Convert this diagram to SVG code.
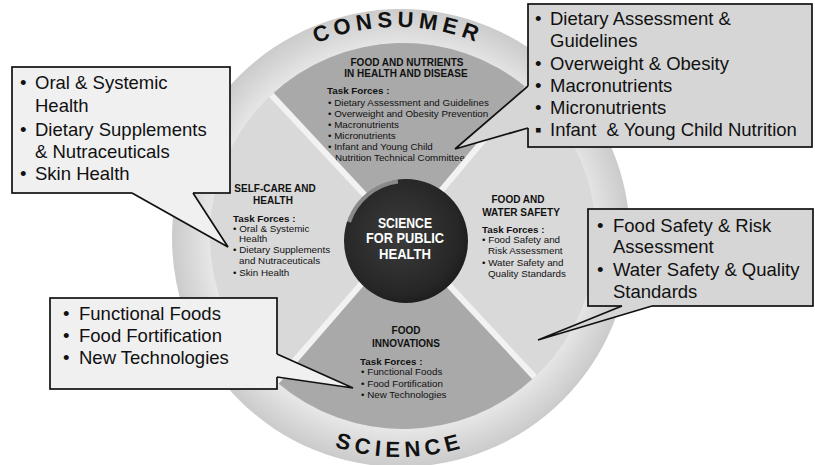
<svg xmlns="http://www.w3.org/2000/svg" width="815" height="465" viewBox="0 0 815 465">
<style>
  .bx{font-family:"Liberation Sans",Arial,sans-serif;font-size:18.5px;fill:#111}
  .qt{font-family:"Liberation Sans",Arial,sans-serif;font-size:10px;font-weight:bold;fill:#111;text-anchor:middle}
  .tf{font-family:"Liberation Sans",Arial,sans-serif;font-size:9.8px;font-weight:bold;fill:#111}
  .qb{font-family:"Liberation Sans",Arial,sans-serif;font-size:9.8px;fill:#111}
  .arc{font-family:"Liberation Sans",Arial,sans-serif;font-size:22px;font-weight:bold;fill:#111;letter-spacing:5px}
  .ctr{font-family:"Liberation Sans",Arial,sans-serif;font-size:14.5px;font-weight:bold;fill:#fff;text-anchor:middle}
  .boxd{fill:#d6d6d6;stroke:#111;stroke-width:1.7}
  .boxl{fill:#f0f0f0;stroke:#111;stroke-width:1.7}
  .wd{fill:#d6d6d6;stroke:none}
  .wl{fill:#f0f0f0;stroke:none}
  .ws{fill:none;stroke:#111;stroke-width:1.7;stroke-linejoin:miter}
  .div{stroke:#f2f2f2;stroke-width:6}
</style>
<defs>
  <radialGradient id="ringG" cx="401" cy="238" r="229" gradientUnits="userSpaceOnUse">
    <stop offset="0.84" stop-color="#e6e6e6"/>
    <stop offset="0.92" stop-color="#d8d8d8"/>
    <stop offset="1" stop-color="#cbcbcb"/>
  </radialGradient>
  <radialGradient id="sphG" cx="0.45" cy="0.45" r="0.6">
    <stop offset="0" stop-color="#3c3c3c"/>
    <stop offset="0.8" stop-color="#262626"/>
    <stop offset="1" stop-color="#1a1a1a"/>
  </radialGradient>
  <path id="arcTop" d="M186,239 A212,212 0 0 1 610,239"/>
  <path id="arcBot" d="M182,239 A218,218 0 0 0 618,239"/>
</defs>
<rect width="815" height="465" fill="#fff"/>

<g id="outer-ring">
  <circle cx="401" cy="238" r="229" fill="url(#ringG)"/>
  <text class="arc"><textPath href="#arcTop" startOffset="50%" text-anchor="middle">CONSUMER</textPath></text>
  <text class="arc"><textPath href="#arcBot" startOffset="50%" text-anchor="middle">SCIENCE</textPath></text>
</g>

<g id="inner-disk">
  <circle cx="403" cy="236" r="193" fill="#d9d9d9"/>
</g>

<g id="q-top">
  <path d="M403,236 L271.4,94.9 A193,193 0 0 1 527.1,88.2 Z" fill="#a9a9a9"/>
  <text class="qt" x="407" y="66">FOOD AND NUTRIENTS</text>
  <text class="qt" x="406" y="77">IN HEALTH AND DISEASE</text>
  <text class="tf" x="327" y="94">Task Forces :</text>
  <text class="qb" x="328" y="105.5">• Dietary Assessment and Guidelines</text>
  <text class="qb" x="328" y="116.5">• Overweight and Obesity Prevention</text>
  <text class="qb" x="328" y="127.5">• Macronutrients</text>
  <text class="qb" x="328" y="138.5">• Micronutrients</text>
  <text class="qb" x="328" y="150">• Infant and Young Child</text>
  <text class="qb" x="335" y="160.5">Nutrition Technical Committee</text>
</g>

<g id="q-bottom">
  <path d="M403,236 L534.6,377.1 A193,193 0 0 1 276.4,381.7 Z" fill="#a9a9a9"/>
  <text class="qt" x="406" y="334">FOOD</text>
  <text class="qt" x="406" y="347">INNOVATIONS</text>
  <text class="tf" x="360" y="364.5">Task Forces :</text>
  <text class="qb" x="361" y="375">• Functional Foods</text>
  <text class="qb" x="361" y="386.5">• Food Fortification</text>
  <text class="qb" x="361" y="397.5">• New Technologies</text>
</g>

<g id="dividers">
  <line class="div" x1="403" y1="236" x2="271.4" y2="94.9"/>
  <line class="div" x1="403" y1="236" x2="527.1" y2="88.2"/>
  <line class="div" x1="403" y1="236" x2="534.6" y2="377.1"/>
  <line class="div" x1="403" y1="236" x2="276.4" y2="381.7"/>
</g>

<g id="q-left">
  <text class="qt" x="275" y="192">SELF-CARE AND</text>
  <text class="qt" x="273" y="204">HEALTH</text>
  <text class="tf" x="233" y="221.5">Task Forces :</text>
  <text class="qb" x="233" y="231.5">• Oral &amp; Systemic</text>
  <text class="qb" x="239" y="241.5">Health</text>
  <text class="qb" x="233" y="252.5">• Dietary Supplements</text>
  <text class="qb" x="239" y="264">and Nutraceuticals</text>
  <text class="qb" x="233" y="275.5">• Skin Health</text>
</g>

<g id="q-right">
  <text class="qt" x="518" y="203">FOOD AND</text>
  <text class="qt" x="521" y="216">WATER SAFETY</text>
  <text class="tf" x="482" y="232.5">Task Forces :</text>
  <text class="qb" x="482" y="242.5">• Food Safety and</text>
  <text class="qb" x="488" y="253.5">Risk Assessment</text>
  <text class="qb" x="482" y="265.5">• Water Safety and</text>
  <text class="qb" x="488" y="276.5">Quality Standards</text>
</g>

<g id="center">
  <circle cx="406" cy="241" r="62" fill="url(#sphG)"/>
  <path d="M349,222 A60,60 0 0 1 398,181.5" fill="none" stroke="#ffffff" stroke-opacity="0.45" stroke-width="4"/>
  <text class="ctr" x="405" y="227.5" textLength="54" lengthAdjust="spacingAndGlyphs">SCIENCE</text>
  <text class="ctr" x="405" y="243" textLength="78" lengthAdjust="spacingAndGlyphs">FOR PUBLIC</text>
  <text class="ctr" x="405" y="258.5" textLength="52" lengthAdjust="spacingAndGlyphs">HEALTH</text>
</g>

<g id="callout-self-care">
  <rect class="boxl" x="12" y="67" width="218" height="126"/>
  <text class="bx" x="20" y="89">•</text><text class="bx" x="35" y="89">Oral &amp; Systemic</text>
  <text class="bx" x="35" y="112">Health</text>
  <text class="bx" x="20" y="136">•</text><text class="bx" x="35" y="136">Dietary Supplements</text>
  <text class="bx" x="35" y="158">&amp; Nutraceuticals</text>
  <text class="bx" x="20" y="180">•</text><text class="bx" x="35" y="180">Skin Health</text>
</g>

<g id="callout-nutrients">
  <rect class="boxd" x="528" y="4" width="284" height="143"/>
  <text class="bx" x="535" y="25">•</text><text class="bx" x="550" y="25">Dietary Assessment &amp;</text>
  <text class="bx" x="550" y="47">Guidelines</text>
  <text class="bx" x="535" y="70">•</text><text class="bx" x="550" y="70">Overweight &amp; Obesity</text>
  <text class="bx" x="535" y="92">•</text><text class="bx" x="550" y="92">Macronutrients</text>
  <text class="bx" x="535" y="114">•</text><text class="bx" x="550" y="114">Micronutrients</text>
  <text class="bx" x="535" y="136">▪</text><text class="bx" x="550" y="136">Infant &#160;&amp; Young Child Nutrition</text>
</g>

<g id="callout-safety">
  <rect class="boxd" x="588" y="209" width="225" height="97"/>
  <text class="bx" x="597" y="232">•</text><text class="bx" x="613" y="232">Food Safety &amp; Risk</text>
  <text class="bx" x="613" y="253">Assessment</text>
  <text class="bx" x="597" y="276">•</text><text class="bx" x="613" y="276">Water Safety &amp; Quality</text>
  <text class="bx" x="613" y="298">Standards</text>
</g>

<g id="callout-innovations">
  <rect class="boxl" x="50" y="298" width="227" height="91"/>
  <text class="bx" x="63" y="320">•</text><text class="bx" x="79" y="320">Functional Foods</text>
  <text class="bx" x="63" y="342">•</text><text class="bx" x="79" y="342">Food Fortification</text>
  <text class="bx" x="63" y="364">•</text><text class="bx" x="79" y="364">New Technologies</text>
</g>

<g id="connectors">
  <polygon class="wl" points="132,193 132,190 193,190 193,193 228,247"/>
  <polyline class="ws" points="132,193 228,247 193,193"/>
  <polygon class="wd" points="528,86 531,86 531,128 528,128 455,149"/>
  <polyline class="ws" points="528,86 455,149 528,128"/>
  <polygon class="wd" points="622,306 622,303 652,303 652,306 538,340"/>
  <polyline class="ws" points="622,306 538,340 652,306"/>
  <polygon class="wl" points="277,354 274,354 274,377 277,377 353,388"/>
  <polyline class="ws" points="277,354 353,388 277,377"/>
</g>
</svg>
